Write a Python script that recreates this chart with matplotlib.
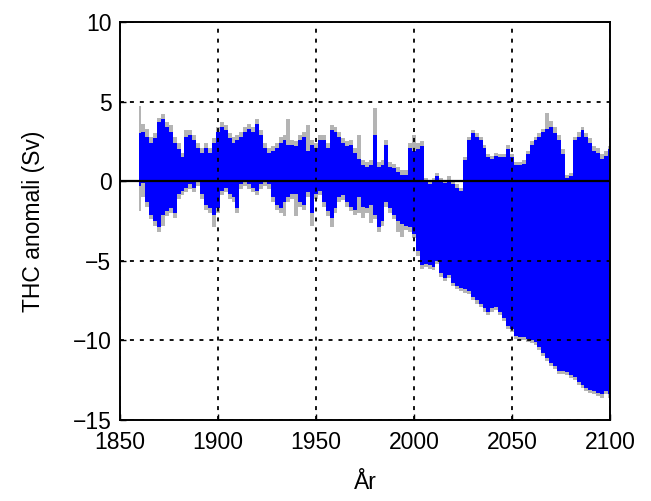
import numpy as np
import matplotlib
matplotlib.use("Agg")
import matplotlib.pyplot as plt

# -----------------------------
# Data (2-year steps 1860-2100)
# -----------------------------
years = np.arange(1860, 2101, 2)

# upper / lower edge of the blue band
blue_upper = [
    3.0, 3.1, 2.8, 2.4, 2.7, 3.7, 3.9, 3.4, 3.1, 2.4,      # 1860-1878
    2.0, 1.5, 2.8, 2.9, 2.6, 2.1, 1.8, 2.1, 1.8, 2.4,      # 1880-1898
    3.1, 3.4, 3.2, 2.7, 2.4, 2.6, 2.8, 3.1, 3.3, 3.1,      # 1900-1918
    3.6, 2.9, 2.1, 1.8, 1.9, 2.1, 2.4, 2.6, 2.3, 2.3,      # 1920-1938
    2.2, 2.6, 2.8, 1.9, 2.3, 2.1, 2.6, 2.6, 2.1, 3.2,      # 1940-1958
    3.1, 2.8, 2.4, 2.2, 2.3, 1.8, 1.4, 1.0, 0.9, 1.0,      # 1960-1978
    2.9, 0.9, 1.0, 2.3, 0.9, 0.8, 0.6, 0.4, 0.4, 2.1,      # 1980-1998
    1.9, 2.0, 2.2, 0.0, -0.2, 0.0, 0.3, 0.0, -0.1, 0.1,    # 2000-2018
    -0.2, -0.4, -0.6, 1.3, 2.6, 3.0, 2.8, 2.6, 2.1, 1.5,   # 2020-2038
    1.4, 1.6, 1.5, 1.5, 2.0, 1.5, 1.0, 1.0, 1.1, 1.7,      # 2040-2058
    2.3, 2.6, 2.8, 3.1, 3.3, 3.4, 3.0, 2.6, 1.7, 0.2,      # 2060-2078
    0.3, 2.6, 2.8, 3.2, 2.8, 2.4, 1.9, 1.8, 1.4, 1.6,      # 2080-2098
    2.0,                                                   # 2100
]
blue_lower = [
    -0.3, -0.1, -1.3, -2.1, -2.5, -2.9, -2.1, -1.9, -1.7, -2.0,
    -0.8, -0.6, -0.4, -0.2, -0.4, 0.0, -0.8, -1.5, -1.7, -2.1,
    -1.7, -0.6, -0.4, -0.8, -1.0, -1.7, -0.2, 0.0, -0.2, -0.4,
    -0.6, -0.2, 0.0, -0.2, -1.0, -1.5, -1.7, -1.3, -1.0, -0.8,
    -0.8, -1.3, -1.5, -0.7, -2.0, -0.8, -0.6, -1.3, -1.9, -2.3,
    -1.7, -1.0, -0.9, -1.3, -1.6, -1.8, -1.0, -1.6, -1.7, -1.5,
    -2.1, -2.9, -2.5, -1.3, -1.7, -2.1, -2.5, -2.7, -2.8, -2.9,
    -3.3, -4.4, -5.3, -5.2, -5.3, -5.4, -5.0, -5.8, -6.1, -5.9,
    -6.4, -6.6, -6.7, -6.8, -6.9, -7.3, -7.5, -7.7, -8.0, -8.2,
    -8.0, -7.9, -8.2, -8.6, -9.1, -9.3, -9.7, -9.8, -9.8, -9.9,
    -10.0, -10.1, -10.4, -10.8, -11.1, -11.4, -11.6, -11.9, -11.9, -12.0,
    -12.2, -12.3, -12.6, -12.8, -13.0, -13.1, -13.2, -13.3, -13.4, -13.2,
    -13.4,
]

# grey band behind it
grey_upper = [
    4.7, 3.6, 3.3, 2.8, 3.0, 4.0, 4.2, 3.7, 3.5, 2.8,
    2.4, 1.8, 3.2, 3.2, 2.9, 2.4, 2.1, 2.4, 2.1, 2.7,
    3.4, 3.7, 3.5, 3.0, 2.8, 2.9, 3.1, 3.4, 3.6, 3.4,
    3.9, 3.2, 2.4, 2.1, 2.2, 2.4, 2.8, 2.9, 3.9, 2.6,
    2.5, 2.9, 3.1, 3.5, 2.6, 2.4, 2.9, 2.9, 2.4, 3.5,
    3.4, 3.1, 2.7, 2.5, 2.6, 2.1, 2.9, 1.3, 1.2, 1.3,
    4.6, 1.2, 1.3, 2.6, 1.2, 1.1, 0.9, 0.7, 0.7, 2.4,
    2.9, 2.4, 2.5, 0.2, 0.0, 0.2, 0.5, 0.2, 0.1, 0.3,
    0.0, -0.2, -0.4, 1.5, 2.8, 3.2, 3.0, 2.8, 2.3, 1.7,
    1.6, 1.8, 1.7, 1.7, 2.3, 1.7, 1.2, 1.2, 1.3, 1.9,
    2.5, 2.8, 3.0, 3.3, 4.3, 3.8, 3.4, 2.9, 2.0, 0.4,
    0.5, 2.8, 3.1, 3.4, 3.0, 2.7, 2.2, 2.1, 1.7, 1.9,
    2.2,
]
grey_lower = [
    -1.9, -1.0, -1.6, -2.4, -2.8, -3.2, -2.8, -2.2, -2.0, -2.3,
    -1.1, -0.9, -0.7, -0.5, -0.7, -0.3, -1.1, -1.8, -2.0, -2.9,
    -2.0, -0.9, -0.7, -1.1, -1.3, -2.0, -0.5, -0.3, -0.5, -0.7,
    -0.9, -0.5, -0.3, -0.5, -1.3, -1.8, -2.0, -2.2, -1.3, -1.1,
    -2.2, -1.6, -1.8, -1.0, -2.8, -1.1, -0.9, -1.6, -2.2, -2.9,
    -2.0, -1.3, -1.2, -1.6, -1.9, -2.1, -2.0, -2.3, -2.0, -2.6,
    -2.4, -3.2, -2.8, -1.6, -2.0, -2.4, -3.2, -3.5, -3.1, -3.2,
    -3.6, -4.7, -5.5, -5.4, -5.5, -5.6, -5.2, -6.0, -6.3, -6.1,
    -6.6, -6.8, -6.9, -7.0, -7.1, -7.5, -7.7, -7.9, -8.2, -8.4,
    -8.2, -8.1, -8.4, -8.8, -9.3, -9.5, -9.9, -10.0, -10.0, -10.1,
    -10.2, -10.3, -10.6, -11.0, -11.3, -11.6, -11.8, -12.1, -12.1, -12.2,
    -12.4, -12.5, -12.8, -13.0, -13.2, -13.3, -13.4, -13.5, -13.6, -13.4,
    -13.6,
]

x_ticks = [1850, 1900, 1950, 2000, 2050, 2100]
y_ticks = [-15, -10, -5, 0, 5, 10]

# -----------------------------
# Plot
# -----------------------------
plt.rcParams["font.family"] = ["Liberation Sans", "DejaVu Sans"]

fig = plt.figure(figsize=(6.51, 5.01), dpi=100)
ax = fig.add_axes([0.184, 0.162, 0.753, 0.794])

ax.fill_between(years, grey_lower, grey_upper, color="#b4b4b4", linewidth=0, step="mid")
ax.fill_between(years, blue_lower, blue_upper, color="#0000ff", linewidth=0, step="mid")
ax.axhline(0, color="black", linewidth=1.6, zorder=3)

ax.set_xlim(1850, 2100)
ax.set_ylim(-15, 10)
ax.set_xticks(x_ticks)
ax.set_yticks(y_ticks)
ax.set_yticklabels([str(v).replace("-", "\u2212") for v in y_ticks])

ax.set_axisbelow(False)
ax.grid(True, color="black", linestyle=(0, (2.2, 3.3)), linewidth=1.3)
ax.tick_params(direction="in", length=4, width=1, labelsize=16.5)
ax.tick_params(axis="x", pad=8)
ax.tick_params(axis="y", pad=6)
for s in ax.spines.values():
    s.set_linewidth(1.4)

ax.set_xlabel("År", fontsize=16.5, labelpad=12)
ax.set_ylabel("THC anomali (Sv)", fontsize=16.5, labelpad=20)

fig.savefig("out.png", dpi=100)
